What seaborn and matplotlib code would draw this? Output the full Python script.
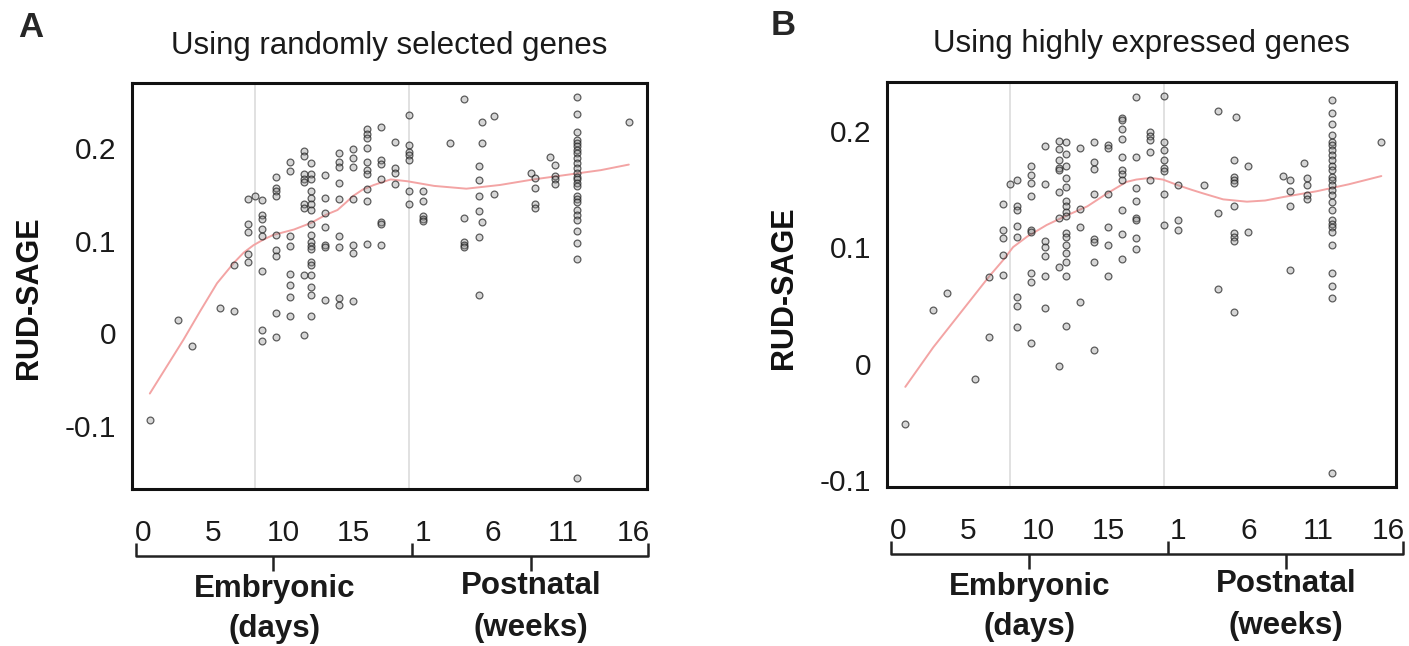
import numpy as np
import pandas as pd
import seaborn as sns
import matplotlib.pyplot as plt

# x axis: embryonic day d -> d, postnatal week w -> 19 + w
tick_pos = [0, 5, 10, 15, 20, 25, 30, 35]
tick_lab = ["0", "5", "10", "15", "1", "6", "11", "16"]
ytick_pos = [-0.1, 0, 0.1, 0.2]
ytick_lab = ["-0.1", "0", "0.1", "0.2"]
stage_lines = [8, 19]

# panel A - randomly selected genes
a_cols = [0.5, 2.5, 3.5, 5.5, 6.5, 7.5, 8.0, 8.5, 9.5, 10.5, 11.5, 12.0, 13.0, 14.0,
          15.0, 16.0, 17.0, 18.0, 19.0, 20.0, 21.9, 22.9, 24.0, 24.2, 25.1, 27.7,
          28.0, 29.1, 29.4, 31.0, 34.7]
a_vals = [
    [-0.094],
    [0.014],
    [-0.014],
    [0.027],
    [0.024, 0.074],
    [0.145, 0.118, 0.109, 0.086, 0.077],
    [0.148],
    [0.144, 0.128, 0.123, 0.113, 0.105, 0.067, 0.004, -0.008],
    [0.169, 0.157, 0.153, 0.148, 0.106, 0.090, 0.083, 0.022, -0.004],
    [0.185, 0.175, 0.105, 0.094, 0.064, 0.052, 0.039, 0.019],
    [0.197, 0.191, 0.172, 0.166, 0.163, 0.140, 0.135, 0.063, -0.002],
    [0.184, 0.172, 0.166, 0.153, 0.146, 0.139, 0.133, 0.118, 0.106, 0.099, 0.094,
     0.091, 0.077, 0.074, 0.063, 0.050, 0.041, 0.019],
    [0.171, 0.146, 0.130, 0.115, 0.095, 0.093, 0.036],
    [0.194, 0.185, 0.179, 0.162, 0.145, 0.105, 0.093, 0.038, 0.031],
    [0.199, 0.189, 0.179, 0.145, 0.095, 0.087, 0.035],
    [0.220, 0.215, 0.211, 0.200, 0.185, 0.176, 0.172, 0.156, 0.143, 0.096],
    [0.223, 0.187, 0.183, 0.166, 0.120, 0.118, 0.095],
    [0.206, 0.178, 0.173, 0.161],
    [0.235, 0.203, 0.196, 0.192, 0.187, 0.154, 0.139],
    [0.154, 0.143, 0.127, 0.123, 0.121],
    [0.205],
    [0.253, 0.124, 0.099, 0.095, 0.093],
    [0.181, 0.165, 0.148, 0.132, 0.104, 0.041],
    [0.228, 0.205, 0.120],
    [0.234, 0.150],
    [0.173],
    [0.168, 0.157, 0.139, 0.135],
    [0.190],
    [0.182, 0.170, 0.166, 0.161],
    [0.255, 0.237, 0.217, 0.209, 0.205, 0.202, 0.198, 0.194, 0.189, 0.184, 0.178,
     0.173, 0.169, 0.166, 0.162, 0.159, 0.148, 0.145, 0.142, 0.133, 0.128, 0.122,
     0.110, 0.097, 0.080, -0.156],
    [0.228],
]
a_fit_x = [0.5, 1.7, 2.9, 4.1, 5.3, 6.5, 7.2, 7.9, 8.6, 9.3, 10.8, 12.0, 13.1, 13.9,
           14.5, 15.0, 15.7, 16.5, 17.7, 18.9, 20.8, 23.1, 25.5, 27.9, 30.3, 32.7, 34.7]
a_fit_y = [-0.065, -0.036, -0.007, 0.024, 0.054, 0.076, 0.087, 0.095, 0.101, 0.106,
           0.112, 0.119, 0.128, 0.133, 0.141, 0.148, 0.155, 0.160, 0.166, 0.164,
           0.159, 0.156, 0.160, 0.166, 0.171, 0.176, 0.182]

# panel B - highly expressed genes
b_cols = [0.5, 2.5, 3.5, 5.5, 6.5, 7.5, 8.0, 8.5, 9.5, 10.5, 11.5, 12.0, 13.0, 14.0,
          15.0, 16.0, 17.0, 18.0, 19.0, 20.0, 21.8, 22.8, 24.0, 24.1, 25.0, 27.5,
          28.0, 29.0, 29.2, 31.0, 34.5]
b_vals = [
    [-0.052],
    [0.046],
    [0.061],
    [-0.013],
    [0.074, 0.023],
    [0.137, 0.115, 0.108, 0.093, 0.076],
    [0.154],
    [0.158, 0.135, 0.132, 0.118, 0.109, 0.057, 0.049, 0.031],
    [0.170, 0.162, 0.155, 0.144, 0.115, 0.113, 0.078, 0.070, 0.018],
    [0.187, 0.154, 0.105, 0.100, 0.092, 0.075, 0.048],
    [0.191, 0.184, 0.175, 0.168, 0.166, 0.147, 0.125, 0.083, -0.002],
    [0.190, 0.180, 0.170, 0.159, 0.152, 0.140, 0.135, 0.130, 0.127, 0.112, 0.109,
     0.102, 0.095, 0.087, 0.075, 0.032],
    [0.185, 0.133, 0.117, 0.053],
    [0.190, 0.173, 0.167, 0.146, 0.107, 0.104, 0.087, 0.012],
    [0.188, 0.185, 0.146, 0.117, 0.102, 0.075],
    [0.211, 0.209, 0.201, 0.193, 0.177, 0.166, 0.163, 0.158, 0.132, 0.111, 0.090],
    [0.229, 0.177, 0.151, 0.140, 0.125, 0.123, 0.108, 0.098],
    [0.199, 0.195, 0.192, 0.182, 0.158],
    [0.230, 0.190, 0.183, 0.175, 0.168, 0.165, 0.146, 0.119],
    [0.153, 0.123, 0.115],
    [0.153],
    [0.217, 0.129, 0.064],
    [0.175, 0.160, 0.158, 0.155, 0.135, 0.112, 0.109, 0.105, 0.044],
    [0.212],
    [0.170, 0.113],
    [0.161],
    [0.158, 0.148, 0.135, 0.080],
    [0.172],
    [0.159, 0.153, 0.145, 0.141],
    [0.226, 0.215, 0.206, 0.196, 0.190, 0.188, 0.183, 0.179, 0.175, 0.170, 0.166,
     0.160, 0.158, 0.153, 0.149, 0.145, 0.139, 0.132, 0.123, 0.120, 0.117, 0.113,
     0.102, 0.078, 0.067, 0.056, -0.094],
    [0.190],
]
b_fit_x = [0.5, 2.5, 4.6, 6.5, 7.5, 8.2, 9.2, 10.6, 12.0, 13.5, 14.9, 16.3, 17.0,
           17.7, 18.3, 18.9, 20.0, 21.0, 21.8, 23.2, 24.9, 26.2, 27.5, 29.9, 32.2, 34.5]
b_fit_y = [-0.020, 0.014, 0.046, 0.075, 0.089, 0.100, 0.109, 0.119, 0.127, 0.135,
           0.146, 0.156, 0.158, 0.159, 0.159, 0.158, 0.153, 0.149, 0.146, 0.141,
           0.139, 0.140, 0.143, 0.148, 0.154, 0.161]


def to_frame(cols, vals):
    """expand column lists into a long table"""
    return pd.DataFrame({"age": np.repeat(cols, [len(v) for v in vals]),
                         "rud": np.concatenate(vals)})


def draw_panel(ax, cols, vals, fit_x, fit_y, xlim, ylim):
    df = to_frame(cols, vals)
    for v in stage_lines:
        ax.axvline(v, color="#dcdcdc", lw=1.2, zorder=0)
    sns.scatterplot(data=df, x="age", y="rud", ax=ax, s=24,
                    color=(0.55, 0.55, 0.55, 0.35),
                    edgecolor=(0.12, 0.12, 0.12, 0.7), linewidth=0.9, zorder=3)
    sns.lineplot(x=fit_x, y=fit_y, ax=ax, color="#f3a4a4", lw=1.4, zorder=2)
    ax.set_xlim(*xlim)
    ax.set_ylim(*ylim)
    ax.set_xticks(tick_pos)
    ax.set_xticklabels(tick_lab)
    ax.set_yticks(ytick_pos)
    ax.set_yticklabels(ytick_lab)
    ax.set_xlabel("")
    ax.set_ylabel("")
    ax.tick_params(axis="x", length=4.5, width=1, color="#999999", pad=17,
                   labelsize=21.5, labelcolor="#1a1a1a")
    ax.tick_params(axis="y", length=4.5, width=1, color="#999999", pad=6.5,
                   labelsize=21.5, labelcolor="#1a1a1a")
    for s in ax.spines.values():
        s.set_linewidth(2.2)
        s.set_color("#111111")

    # bracket under the axis
    tr = ax.get_xaxis_transform()
    kw = dict(transform=tr, clip_on=False, color="#222222", lw=1.8,
              solid_capstyle="butt")
    y_br, y_up, y_dn = -0.165, -0.133, -0.202
    ax.plot([-0.5, -0.5, 36.05, 36.05], [y_up, y_br, y_br, y_up], **kw)
    ax.plot([19.25, 19.25], [y_br, y_up], **kw)
    ax.plot([9.3, 9.3], [y_br, y_dn], **kw)
    ax.plot([27.7, 27.7], [y_br, y_dn], **kw)
    tkw = dict(transform=tr, ha="center", va="center", fontsize=22.5,
               fontweight="bold", color="#1a1a1a")
    ax.text(9.4, -0.247, "Embryonic", **tkw)
    ax.text(9.4, -0.345, "(days)", **tkw)
    ax.text(27.7, -0.240, "Postnatal", **tkw)
    ax.text(27.7, -0.342, "(weeks)", **tkw)


sns.set_style("white")
plt.rcParams["font.family"] = ["Liberation Sans", "DejaVu Sans"]
plt.rcParams["axes.unicode_minus"] = False

fig = plt.figure(figsize=(14.09, 6.46), dpi=100)
ax_a = fig.add_axes([0.0935, 0.2430, 0.3657, 0.6285])
ax_b = fig.add_axes([0.6293, 0.2461, 0.3615, 0.6274])

draw_panel(ax_a, a_cols, a_vals, a_fit_x, a_fit_y, (-0.79, 36.0), (-0.168, 0.270))
draw_panel(ax_b, b_cols, b_vals, b_fit_x, b_fit_y, (-0.83, 35.55), (-0.106, 0.242))

fig.text(0.276, 0.929, "Using randomly selected genes", ha="center", va="center",
         fontsize=22.5, color="#1a1a1a")
fig.text(0.810, 0.932, "Using highly expressed genes", ha="center", va="center",
         fontsize=22.5, color="#1a1a1a")
fig.text(0.022, 0.958, "A", ha="center", va="center", fontsize=25, fontweight="bold")
fig.text(0.5557, 0.961, "B", ha="center", va="center", fontsize=25, fontweight="bold")
fig.text(0.0209, 0.539, "RUD-SAGE", rotation=90, ha="center", va="center",
         fontsize=22, fontweight="bold", color="#111111")
fig.text(0.5564, 0.554, "RUD-SAGE", rotation=90, ha="center", va="center",
         fontsize=22, fontweight="bold", color="#111111")

fig.savefig("out.png", dpi=100)
